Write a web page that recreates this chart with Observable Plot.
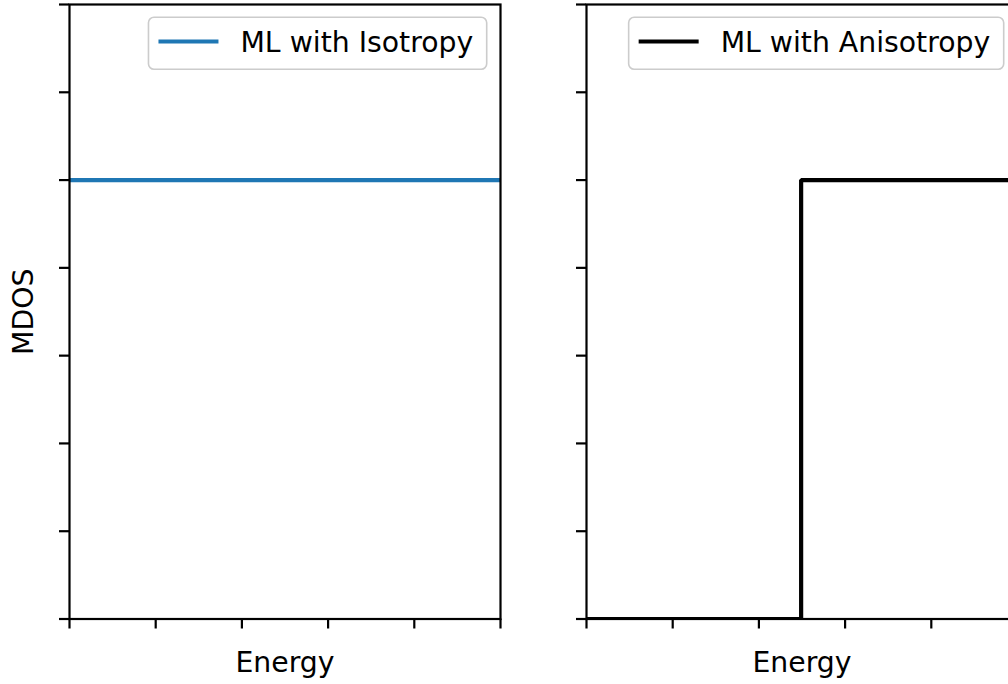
<!DOCTYPE html>
<html>
<head>
<meta charset="utf-8">
<script src="https://cdn.jsdelivr.net/npm/d3@7"></script>
<script src="https://cdn.jsdelivr.net/npm/@observablehq/plot@0.6"></script>
<style>
  body { margin: 0; background: #fff; }
  #chart { position: relative; width: 1008px; height: 684px; overflow: hidden; background: #fff; font-family: "DejaVu Sans", sans-serif; }
  .panel { position: absolute; top: 0; }
  .legend { position: absolute; left: 0; top: 0; pointer-events: none; }
</style>
</head>
<body>
<div id="chart"></div>
<script>
// Tick positions (labels are hidden on both axes)
const energyTicks = [0, 1, 2, 3, 4, 5];
const mdosTicks = [0, 0.5, 1, 1.5, 2, 2.5, 3, 3.5];

// Isotropic case: flat magnon DOS across the whole energy window
const isoEnergy = [0, 5];
const isoMdos = [2.5, 2.5];

// Anisotropic case: gap, then a step up to the same plateau
const anisoEnergy = [0, 2.49, 2.49, 5];
const anisoMdos = [0, 0, 2.5, 2.5];

const seriesNames = ["ML with Isotropy", "ML with Anisotropy"];
const seriesColors = ["#1f77b4", "#000000"];

const toRows = (xs, ys) => xs.map((energy, i) => ({energy, mdos: ys[i]}));

const FONT = "DejaVu Sans";
const FS = 28.3;
const W = 530, H = 684;
const M = {left: 69, top: 4, right: 30, bottom: 65.5};

function drawPanel({rows, color, name, yLabel, offsetLeft}) {
  const wrap = document.createElement("div");
  wrap.className = "panel";
  wrap.style.left = offsetLeft + "px";
  wrap.style.width = W + "px";
  wrap.style.height = H + "px";

  const marks = [
    Plot.line(rows, {
      x: "energy", y: "mdos", stroke: color, strokeWidth: 4.2,
      strokeLinejoin: "miter", strokeLinecap: "square", clip: true
    }),
    Plot.frame({stroke: "black", strokeWidth: 2.2}),
    Plot.axisX(energyTicks, {tickSize: 10, tickFormat: () => "", label: null, strokeWidth: 2.2}),
    Plot.axisY(mdosTicks, {tickSize: 10, tickFormat: () => "", label: null, strokeWidth: 2.2}),
    Plot.text(["Energy"], {frameAnchor: "bottom", dy: 44, lineAnchor: "middle", textAnchor: "middle", fontSize: FS, fill: "black"})
  ];
  if (yLabel) {
    marks.push(Plot.text([yLabel], {frameAnchor: "left", dx: -45.5, rotate: -90, lineAnchor: "middle", textAnchor: "middle", fontSize: FS, fill: "black"}));
  }

  const chart = Plot.plot({
    width: W,
    height: H,
    marginLeft: M.left,
    marginTop: M.top,
    marginRight: M.right,
    marginBottom: M.bottom,
    style: {fontFamily: FONT, fontSize: FS + "px", background: "transparent", color: "black", overflow: "visible"},
    x: {domain: [0, 5]},
    y: {domain: [0, 3.5]},
    marks
  });
  wrap.appendChild(chart);
  document.getElementById("chart").appendChild(wrap);

  // Legend box in the upper-right corner of the axes
  const svg = d3.select(wrap).append("svg")
    .attr("class", "legend")
    .attr("width", W)
    .attr("height", H);
  const g = svg.append("g");
  const label = g.append("text")
    .attr("font-family", FONT)
    .attr("font-size", FS)
    .attr("fill", "black")
    .text(name);
  const textLen = label.node().getComputedTextLength();
  const padL = 10, handle = 60, gap = 22, padR = 13.5;
  const boxW = padL + handle + gap + textLen + padR;
  const boxRight = (W - M.right) + 0.5 - 13.8;
  const boxX = boxRight - boxW;
  g.insert("rect", "text")
    .attr("x", boxX).attr("y", 17.3)
    .attr("width", boxW).attr("height", 52)
    .attr("rx", 5.5)
    .attr("fill", "rgba(255,255,255,0.8)")
    .attr("stroke", "#cccccc")
    .attr("stroke-width", 1.6);
  g.insert("line", "text")
    .attr("x1", boxX + padL).attr("x2", boxX + padL + handle)
    .attr("y1", 41.5).attr("y2", 41.5)
    .attr("stroke", color).attr("stroke-width", 4.2);
  label.attr("x", boxX + padL + handle + gap).attr("y", 51.5);
}

drawPanel({rows: toRows(isoEnergy, isoMdos), color: seriesColors[0], name: seriesNames[0], yLabel: "MDOS", offsetLeft: 0});
drawPanel({rows: toRows(anisoEnergy, anisoMdos), color: seriesColors[1], name: seriesNames[1], yLabel: null, offsetLeft: 517});
</script>
</body>
</html>
